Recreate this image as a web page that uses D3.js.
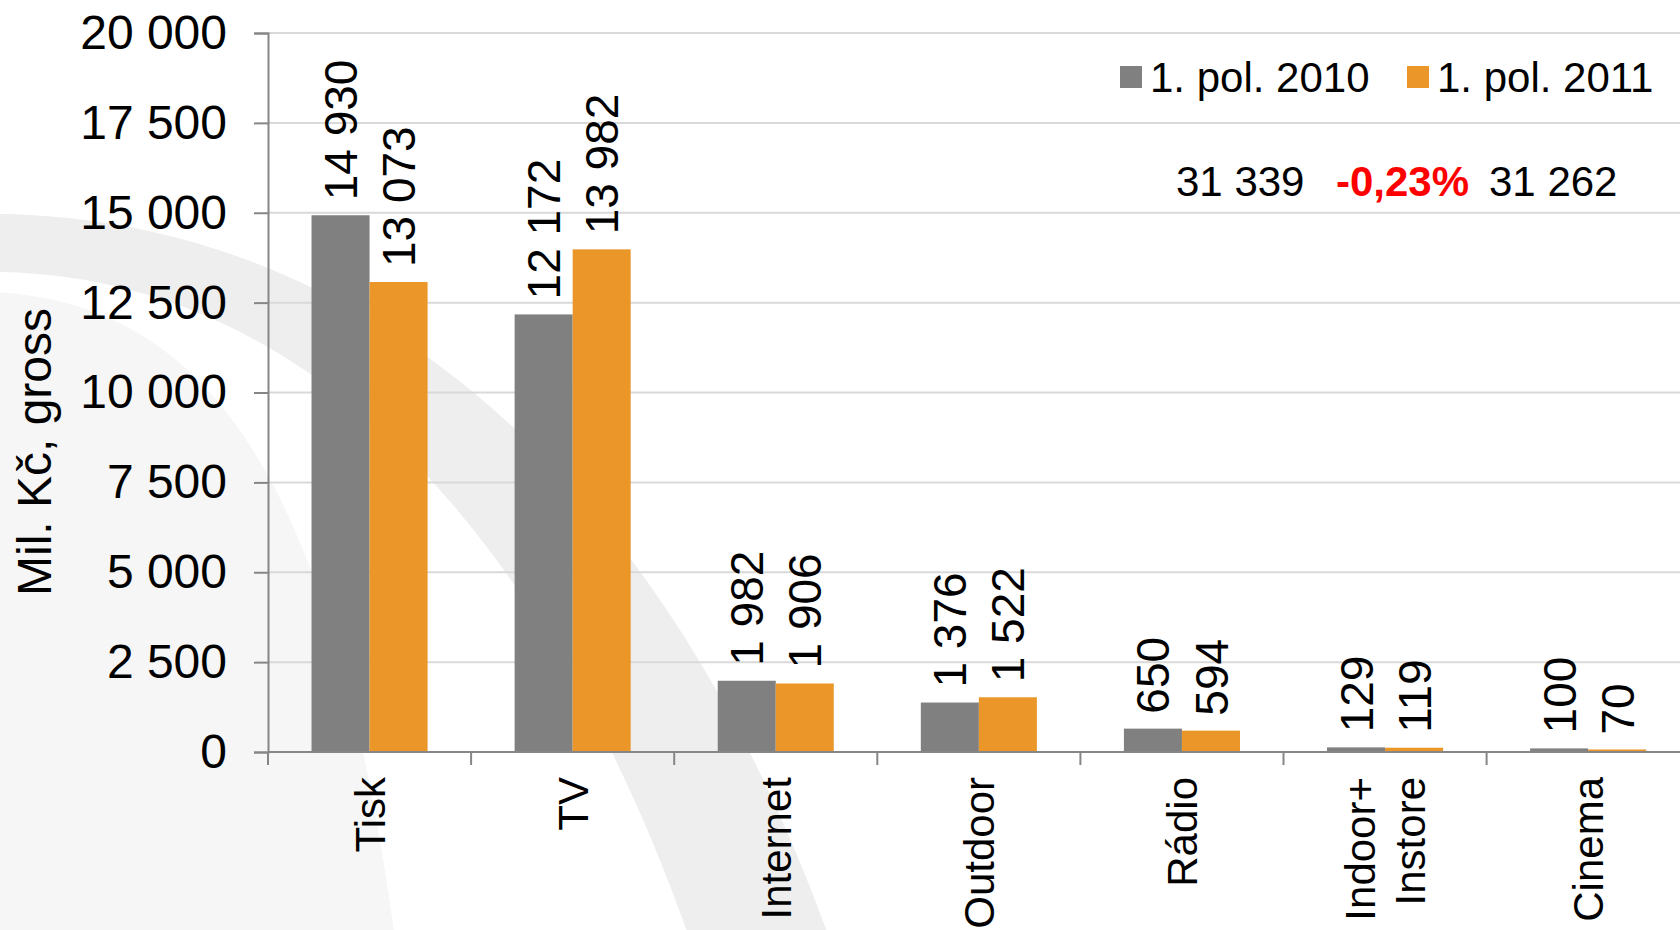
<!DOCTYPE html>
<html>
<head>
<meta charset="utf-8">
<script src="https://cdn.jsdelivr.net/npm/d3@7"></script>
<style>
  html, body { margin: 0; padding: 0; background: #fff; }
  svg { display: block; font-family: "Liberation Sans", Arial, sans-serif; }
</style>
</head>
<body>
<svg id="chart"></svg>
<script>
// data
const categories = ["Tisk", "TV", "Internet", "Outdoor", "Rádio", "Indoor+\nInstore", "Cinema"];
const seriesNames = ["1. pol. 2010", "1. pol. 2011"];
const values2010 = [14930, 12172, 1982, 1376, 650, 129, 100];
const values2011 = [13073, 13982, 1906, 1522, 594, 119, 70];
const yTicks = [0, 2500, 5000, 7500, 10000, 12500, 15000, 17500, 20000];
const totals = [31339, 31262];
const changeLabel = "-0,23%";
const yTitle = "Mil. Kč, gross";

const W = 1680, H = 930;
const colors = ["#808080", "#EA9628"];
const svg = d3.select("#chart").attr("width", W).attr("height", H);

// number format with space as thousands separator
const loc = d3.formatLocale({ decimal: ",", thousands: "\u00a0", grouping: [3], currency: ["", ""] });
const fmt = loc.format(",d");

// background watermark (swoosh)
const bg = svg.append("g");
bg.append("path")
    .attr("d", "M-10,292 C190,300 330,450 395,940 L-10,940 Z")
    .attr("fill", "#f6f6f6");
bg.append("path")
    .attr("d", "M-10,214 C330,214 650,440 830,940 L690,940 C560,570 330,272 -10,272 Z")
    .attr("fill", "#eeeeee");

// scales
const x = d3.scaleBand().domain(categories).range([268, 268 + 7 * 203.1]);
const xSub = d3.scaleBand().domain(seriesNames).range([0, x.bandwidth()]).paddingOuter(0.75);
const y = d3.scaleLinear().domain([0, 20000]).range([752, 33]);

// gridlines
svg.append("g")
    .selectAll("line")
    .data(yTicks.filter(d => d > 0))
    .join("line")
    .attr("x1", 268).attr("x2", W)
    .attr("y1", d => y(d)).attr("y2", d => y(d))
    .attr("stroke", "#d9d9d9").attr("stroke-width", 2);

// y axis
const yAxis = svg.append("g")
    .attr("transform", "translate(268,0)")
    .call(d3.axisLeft(y).tickValues(yTicks).tickFormat(fmt).tickSize(14).tickPadding(27));
yAxis.select(".domain").attr("stroke", "#868686").attr("stroke-width", 2);
yAxis.selectAll(".tick line").attr("stroke", "#868686").attr("stroke-width", 2);
yAxis.selectAll(".tick text")
    .attr("font-size", 48)
    .attr("fill", "#000")
    .attr("font-family", "Liberation Sans, Arial, sans-serif");

// axis title
svg.append("text")
    .attr("transform", "translate(51," + 452 + ") rotate(-90)")
    .attr("text-anchor", "middle")
    .attr("font-size", 48)
    .text(yTitle);

// bars
const rows = categories.map((c, i) => ({ cat: c, vals: [values2010[i], values2011[i]] }));
const groups = svg.append("g")
    .selectAll("g")
    .data(rows)
    .join("g")
    .attr("transform", d => "translate(" + x(d.cat) + ",0)");

groups.selectAll("rect")
    .data(d => d.vals.map((v, j) => ({ name: seriesNames[j], value: v, j: j })))
    .join("rect")
    .attr("x", d => xSub(d.name))
    .attr("y", d => y(d.value))
    .attr("width", xSub.bandwidth())
    .attr("height", d => y(0) - y(d.value))
    .attr("fill", d => colors[d.j]);

// value labels (rotated)
groups.selectAll("text.val")
    .data(d => d.vals.map((v, j) => ({ name: seriesNames[j], value: v })))
    .join("text")
    .attr("class", "val")
    .attr("transform", d => "translate(" + (xSub(d.name) + xSub.bandwidth() / 2) + "," + (y(d.value) - 15) + ") rotate(-90)")
    .attr("dy", "0.36em")
    .attr("font-size", 46)
    .text(d => fmt(d.value));

// x axis line and boundary ticks
svg.append("line")
    .attr("x1", 268).attr("x2", W)
    .attr("y1", y(0)).attr("y2", y(0))
    .attr("stroke", "#868686").attr("stroke-width", 2);
svg.append("g")
    .selectAll("line")
    .data(categories)
    .join("line")
    .attr("x1", d => x(d)).attr("x2", d => x(d))
    .attr("y1", y(0)).attr("y2", y(0) + 13)
    .attr("stroke", "#868686").attr("stroke-width", 2);

// category labels
const catLabels = svg.append("g")
    .selectAll("text")
    .data(categories)
    .join("text")
    .attr("transform", d => "translate(" + (x(d) + x.bandwidth() / 2) + "," + (y(0) + 25) + ") rotate(-90)")
    .attr("text-anchor", "end")
    .attr("font-size", 42);
catLabels.each(function(d) {
    const lines = d.split("\n");
    const t = d3.select(this);
    lines.forEach((l, k) => {
        t.append("tspan")
            .attr("x", 0)
            .attr("dy", k === 0 ? (0.36 - (lines.length - 1) * 0.6) + "em" : "1.2em")
            .text(l);
    });
});

// legend
const legX = [1120, 1407];
const legend = svg.append("g")
    .selectAll("g")
    .data(seriesNames)
    .join("g")
    .attr("transform", (d, i) => "translate(" + legX[i] + ",0)");
legend.append("rect")
    .attr("x", 0).attr("y", 66)
    .attr("width", 22).attr("height", 22)
    .attr("fill", (d, i) => colors[i]);
legend.append("text")
    .attr("x", 30).attr("y", 92)
    .attr("font-size", 42)
    .text(d => d);

// totals annotation
svg.append("text").attr("x", 1176).attr("y", 196).attr("font-size", 42).text(fmt(totals[0]));
svg.append("text").attr("x", 1336).attr("y", 196).attr("font-size", 42)
    .attr("font-weight", "bold").attr("fill", "#ff0000").text(changeLabel);
svg.append("text").attr("x", 1489).attr("y", 196).attr("font-size", 42).text(fmt(totals[1]));
</script>
</body>
</html>
